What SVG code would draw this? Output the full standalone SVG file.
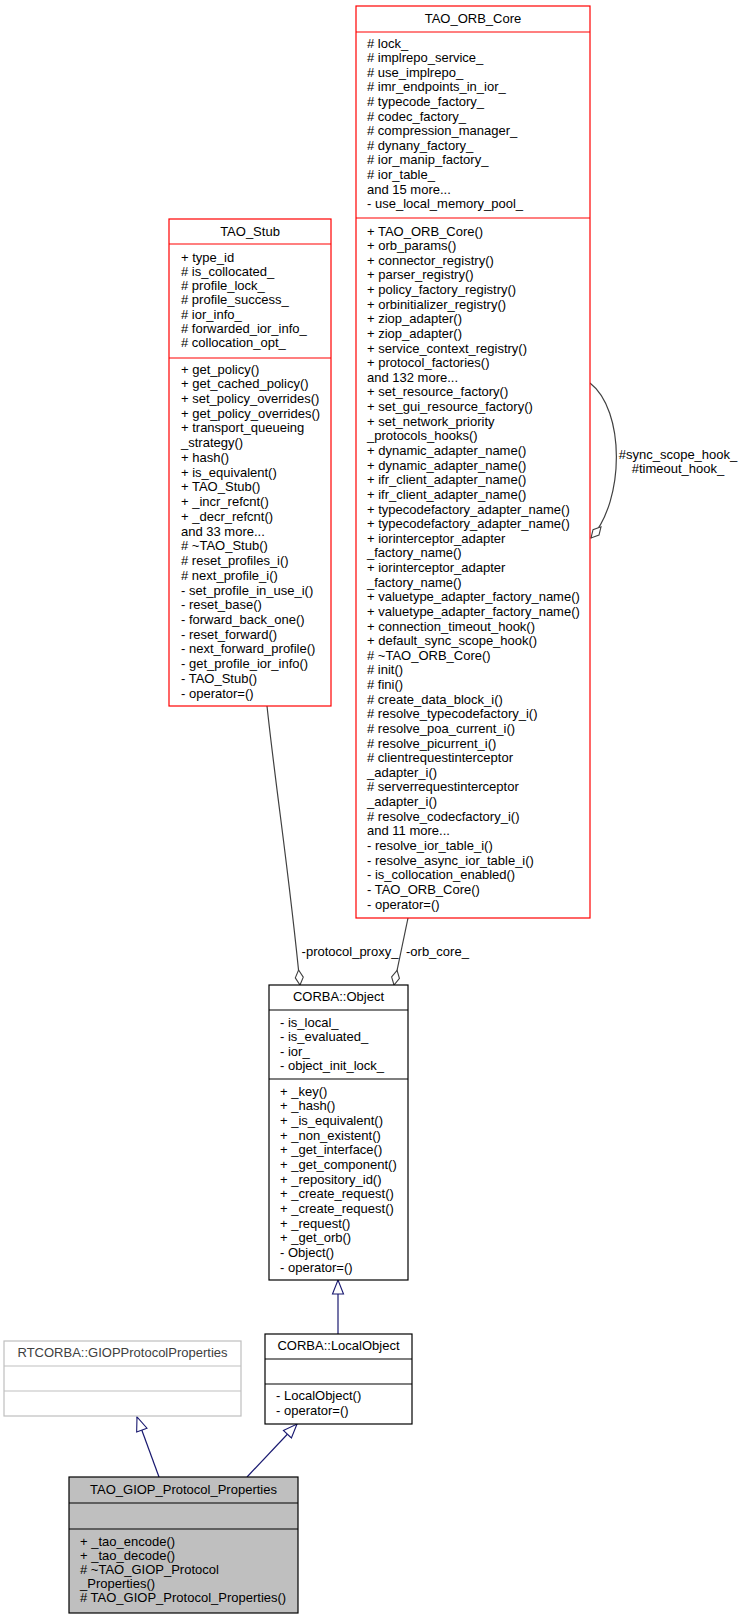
<svg xmlns="http://www.w3.org/2000/svg" width="744" height="1619" viewBox="0 0 744 1619">
<style>
text{font-family:"Liberation Sans",Arial,sans-serif;font-size:13px;fill:#000}
.t{text-anchor:middle}
.red{fill:#fff;stroke:#ff0000;stroke-width:1.2}
.blk{fill:#fff;stroke:#000;stroke-width:1.2}
.gry{fill:#fff;stroke:#bfbfbf;stroke-width:1.2}
.sel{fill:#bfbfbf;stroke:#000;stroke-width:1.2}
.agg{fill:none;stroke:#404040;stroke-width:1.2}
.inh{fill:none;stroke:#191970;stroke-width:1.2}
</style>
<defs>
<marker id="dia" markerWidth="18" markerHeight="10" refX="16" refY="5" orient="auto" markerUnits="userSpaceOnUse">
<path d="M1,5 L8.5,1 L16,5 L8.5,9 Z" fill="#fff" stroke="#404040" stroke-width="1.1"/>
</marker>
<marker id="tri" markerWidth="16" markerHeight="14" refX="15" refY="7" orient="auto" markerUnits="userSpaceOnUse">
<path d="M1,1.5 L15,7 L1,12.5 Z" fill="#fff" stroke="#191970" stroke-width="1.1"/>
</marker>
</defs>

<g id="connectors">
<path class="agg" d="M267,706 C276,790 290,880 300,985" marker-end="url(#dia)"/>
<path class="agg" d="M408,918 L394,985" marker-end="url(#dia)"/>
<path class="agg" d="M590,383 C625,410 625,500 591,538" marker-end="url(#dia)"/>
<text class="t" x="350" y="956">-protocol_proxy_</text>
<text x="406" y="956">-orb_core_</text>
<text class="t" x="678" y="459">#sync_scope_hook_</text>
<text class="t" x="678" y="473">#timeout_hook_</text>
<path class="inh" d="M338,1334 L338,1280" marker-end="url(#tri)"/>
<path class="inh" d="M159,1477 L137,1417" marker-end="url(#tri)"/>
<path class="inh" d="M247,1477 L297,1424" marker-end="url(#tri)"/>
</g>

<g id="TAO_ORB_Core">
<rect class="red" x="356" y="6" width="234" height="912"/>
<line class="red" x1="356" y1="32" x2="590" y2="32"/>
<line class="red" x1="356" y1="218" x2="590" y2="218"/>
<text class="t" x="473" y="23">TAO_ORB_Core</text>
<text x="367">
<tspan x="367" y="47.5"># lock_</tspan>
<tspan x="367" y="62.1"># implrepo_service_</tspan>
<tspan x="367" y="76.7"># use_implrepo_</tspan>
<tspan x="367" y="91.3"># imr_endpoints_in_ior_</tspan>
<tspan x="367" y="105.9"># typecode_factory_</tspan>
<tspan x="367" y="120.5"># codec_factory_</tspan>
<tspan x="367" y="135.1"># compression_manager_</tspan>
<tspan x="367" y="149.7"># dynany_factory_</tspan>
<tspan x="367" y="164.3"># ior_manip_factory_</tspan>
<tspan x="367" y="178.9"># ior_table_</tspan>
<tspan x="367" y="193.5">and 15 more...</tspan>
<tspan x="367" y="208.1">- use_local_memory_pool_</tspan>
</text>
<text x="367">
<tspan x="367" y="235.5">+ TAO_ORB_Core()</tspan>
<tspan x="367" y="250.1">+ orb_params()</tspan>
<tspan x="367" y="264.8">+ connector_registry()</tspan>
<tspan x="367" y="279.4">+ parser_registry()</tspan>
<tspan x="367" y="294.0">+ policy_factory_registry()</tspan>
<tspan x="367" y="308.7">+ orbinitializer_registry()</tspan>
<tspan x="367" y="323.3">+ ziop_adapter()</tspan>
<tspan x="367" y="337.9">+ ziop_adapter()</tspan>
<tspan x="367" y="352.5">+ service_context_registry()</tspan>
<tspan x="367" y="367.2">+ protocol_factories()</tspan>
<tspan x="367" y="381.8">and 132 more...</tspan>
<tspan x="367" y="396.4">+ set_resource_factory()</tspan>
<tspan x="367" y="411.1">+ set_gui_resource_factory()</tspan>
<tspan x="367" y="425.7">+ set_network_priority</tspan>
<tspan x="367" y="440.3">_protocols_hooks()</tspan>
<tspan x="367" y="454.9">+ dynamic_adapter_name()</tspan>
<tspan x="367" y="469.6">+ dynamic_adapter_name()</tspan>
<tspan x="367" y="484.2">+ ifr_client_adapter_name()</tspan>
<tspan x="367" y="498.8">+ ifr_client_adapter_name()</tspan>
<tspan x="367" y="513.5">+ typecodefactory_adapter_name()</tspan>
<tspan x="367" y="528.1">+ typecodefactory_adapter_name()</tspan>
<tspan x="367" y="542.7">+ iorinterceptor_adapter</tspan>
<tspan x="367" y="557.4">_factory_name()</tspan>
<tspan x="367" y="572.0">+ iorinterceptor_adapter</tspan>
<tspan x="367" y="586.6">_factory_name()</tspan>
<tspan x="367" y="601.2">+ valuetype_adapter_factory_name()</tspan>
<tspan x="367" y="615.9">+ valuetype_adapter_factory_name()</tspan>
<tspan x="367" y="630.5">+ connection_timeout_hook()</tspan>
<tspan x="367" y="645.1">+ default_sync_scope_hook()</tspan>
<tspan x="367" y="659.8"># ~TAO_ORB_Core()</tspan>
<tspan x="367" y="674.4"># init()</tspan>
<tspan x="367" y="689.0"># fini()</tspan>
<tspan x="367" y="703.6"># create_data_block_i()</tspan>
<tspan x="367" y="718.3"># resolve_typecodefactory_i()</tspan>
<tspan x="367" y="732.9"># resolve_poa_current_i()</tspan>
<tspan x="367" y="747.5"># resolve_picurrent_i()</tspan>
<tspan x="367" y="762.2"># clientrequestinterceptor</tspan>
<tspan x="367" y="776.8">_adapter_i()</tspan>
<tspan x="367" y="791.4"># serverrequestinterceptor</tspan>
<tspan x="367" y="806.0">_adapter_i()</tspan>
<tspan x="367" y="820.7"># resolve_codecfactory_i()</tspan>
<tspan x="367" y="835.3">and 11 more...</tspan>
<tspan x="367" y="849.9">- resolve_ior_table_i()</tspan>
<tspan x="367" y="864.6">- resolve_async_ior_table_i()</tspan>
<tspan x="367" y="879.2">- is_collocation_enabled()</tspan>
<tspan x="367" y="893.8">- TAO_ORB_Core()</tspan>
<tspan x="367" y="908.5">- operator=()</tspan>
</text>
</g>

<g id="TAO_Stub">
<rect class="red" x="169" y="219" width="162" height="487"/>
<line class="red" x1="169" y1="244" x2="331" y2="244"/>
<line class="red" x1="169" y1="358" x2="331" y2="358"/>
<text class="t" x="250" y="236">TAO_Stub</text>
<text x="181">
<tspan x="181" y="261.5">+ type_id</tspan>
<tspan x="181" y="275.8"># is_collocated_</tspan>
<tspan x="181" y="290.1"># profile_lock_</tspan>
<tspan x="181" y="304.4"># profile_success_</tspan>
<tspan x="181" y="318.7"># ior_info_</tspan>
<tspan x="181" y="333.0"># forwarded_ior_info_</tspan>
<tspan x="181" y="347.3"># collocation_opt_</tspan>
</text>
<text x="181">
<tspan x="181" y="373.5">+ get_policy()</tspan>
<tspan x="181" y="388.2">+ get_cached_policy()</tspan>
<tspan x="181" y="402.9">+ set_policy_overrides()</tspan>
<tspan x="181" y="417.7">+ get_policy_overrides()</tspan>
<tspan x="181" y="432.4">+ transport_queueing</tspan>
<tspan x="181" y="447.1">_strategy()</tspan>
<tspan x="181" y="461.9">+ hash()</tspan>
<tspan x="181" y="476.6">+ is_equivalent()</tspan>
<tspan x="181" y="491.3">+ TAO_Stub()</tspan>
<tspan x="181" y="506.1">+ _incr_refcnt()</tspan>
<tspan x="181" y="520.8">+ _decr_refcnt()</tspan>
<tspan x="181" y="535.5">and 33 more...</tspan>
<tspan x="181" y="550.3"># ~TAO_Stub()</tspan>
<tspan x="181" y="565.0"># reset_profiles_i()</tspan>
<tspan x="181" y="579.7"># next_profile_i()</tspan>
<tspan x="181" y="594.5">- set_profile_in_use_i()</tspan>
<tspan x="181" y="609.2">- reset_base()</tspan>
<tspan x="181" y="623.9">- forward_back_one()</tspan>
<tspan x="181" y="638.7">- reset_forward()</tspan>
<tspan x="181" y="653.4">- next_forward_profile()</tspan>
<tspan x="181" y="668.1">- get_profile_ior_info()</tspan>
<tspan x="181" y="682.9">- TAO_Stub()</tspan>
<tspan x="181" y="697.6">- operator=()</tspan>
</text>
</g>

<g id="CORBA_Object">
<rect class="blk" x="269" y="985" width="139" height="295"/>
<line class="blk" x1="269" y1="1010" x2="408" y2="1010"/>
<line class="blk" x1="269" y1="1079" x2="408" y2="1079"/>
<text class="t" x="338.5" y="1001">CORBA::Object</text>
<text x="280">
<tspan x="280" y="1026.5">- is_local_</tspan>
<tspan x="280" y="1041.1">- is_evaluated_</tspan>
<tspan x="280" y="1055.7">- ior_</tspan>
<tspan x="280" y="1070.3">- object_init_lock_</tspan>
</text>
<text x="280">
<tspan x="280" y="1095.5">+ _key()</tspan>
<tspan x="280" y="1110.2">+ _hash()</tspan>
<tspan x="280" y="1124.8">+ _is_equivalent()</tspan>
<tspan x="280" y="1139.5">+ _non_existent()</tspan>
<tspan x="280" y="1154.2">+ _get_interface()</tspan>
<tspan x="280" y="1168.8">+ _get_component()</tspan>
<tspan x="280" y="1183.5">+ _repository_id()</tspan>
<tspan x="280" y="1198.2">+ _create_request()</tspan>
<tspan x="280" y="1212.9">+ _create_request()</tspan>
<tspan x="280" y="1227.5">+ _request()</tspan>
<tspan x="280" y="1242.2">+ _get_orb()</tspan>
<tspan x="280" y="1256.9">- Object()</tspan>
<tspan x="280" y="1271.5">- operator=()</tspan>
</text>
</g>

<g id="CORBA_LocalObject">
<rect class="blk" x="265" y="1334" width="147" height="90"/>
<line class="blk" x1="265" y1="1359" x2="412" y2="1359"/>
<line class="blk" x1="265" y1="1384" x2="412" y2="1384"/>
<text class="t" x="338.5" y="1350">CORBA::LocalObject</text>
<text x="276">
<tspan x="276" y="1399.5">- LocalObject()</tspan>
<tspan x="276" y="1414.5">- operator=()</tspan>
</text>
</g>

<g id="RTCORBA_GIOPProtocolProperties">
<rect class="gry" x="4" y="1341" width="237" height="75"/>
<line class="gry" x1="4" y1="1366" x2="241" y2="1366"/>
<line class="gry" x1="4" y1="1391" x2="241" y2="1391"/>
<text class="t" x="122.5" y="1357" style="fill:#404040">RTCORBA::GIOPProtocolProperties</text>
</g>

<g id="TAO_GIOP_Protocol_Properties">
<rect class="sel" x="69" y="1477" width="229" height="136"/>
<line class="sel" x1="69" y1="1503" x2="298" y2="1503"/>
<line class="sel" x1="69" y1="1529" x2="298" y2="1529"/>
<text class="t" x="183.5" y="1494">TAO_GIOP_Protocol_Properties</text>
<text x="80">
<tspan x="80" y="1545.5">+ _tao_encode()</tspan>
<tspan x="80" y="1559.5">+ _tao_decode()</tspan>
<tspan x="80" y="1573.5"># ~TAO_GIOP_Protocol</tspan>
<tspan x="80" y="1587.5">_Properties()</tspan>
<tspan x="80" y="1601.5"># TAO_GIOP_Protocol_Properties()</tspan>
</text>
</g>
</svg>
